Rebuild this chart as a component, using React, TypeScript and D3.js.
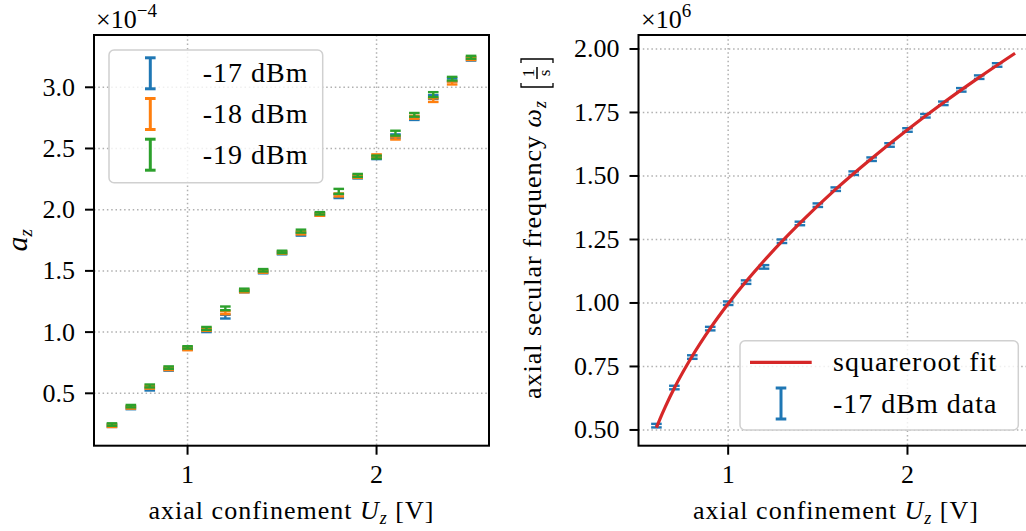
import * as React from 'react';
import * as d3 from 'd3';

// axial confinement voltages [V]
const voltages = [0.6, 0.7, 0.8, 0.9, 1.0, 1.1, 1.2, 1.3, 1.4, 1.5, 1.6, 1.7, 1.8, 1.9, 2.0, 2.1, 2.2, 2.3, 2.4, 2.5];

// a_z (x1e-4) per power
const az17 = [0.235, 0.38, 0.535, 0.695, 0.865, 1.01, 1.126, 1.335, 1.49, 1.645, 1.8, 1.96, 2.11, 2.265, 2.425, 2.6, 2.745, 2.92, 3.06, 3.23];
const az18 = [0.235, 0.385, 0.55, 0.7, 0.862, 1.02, 1.158, 1.335, 1.495, 1.65, 1.81, 1.96, 2.12, 2.27, 2.44, 2.585, 2.755, 2.895, 3.035, 3.235];
const az19 = [0.245, 0.395, 0.56, 0.71, 0.875, 1.03, 1.194, 1.345, 1.505, 1.655, 1.825, 1.97, 2.15, 2.28, 2.43, 2.625, 2.775, 2.94, 3.07, 3.245];
const azErr17 = [0.01, 0.01, 0.012, 0.01, 0.01, 0.01, 0.015, 0.01, 0.01, 0.01, 0.012, 0.01, 0.015, 0.01, 0.012, 0.015, 0.012, 0.015, 0.012, 0.012];
const azErr18 = [0.01, 0.01, 0.012, 0.01, 0.01, 0.01, 0.012, 0.01, 0.01, 0.01, 0.012, 0.01, 0.012, 0.01, 0.012, 0.012, 0.012, 0.015, 0.012, 0.012];
const azErr19 = [0.01, 0.01, 0.012, 0.01, 0.01, 0.012, 0.015, 0.01, 0.01, 0.01, 0.012, 0.01, 0.02, 0.012, 0.012, 0.02, 0.015, 0.02, 0.015, 0.012];

// omega_z (x1e6) for -17 dBm
const omega17 = [0.517, 0.667, 0.787, 0.899, 0.999, 1.082, 1.142, 1.243, 1.313, 1.385, 1.448, 1.511, 1.566, 1.622, 1.681, 1.737, 1.786, 1.839, 1.889, 1.937];
const omegaErr17 = [0.007, 0.007, 0.007, 0.007, 0.007, 0.007, 0.007, 0.007, 0.007, 0.007, 0.007, 0.007, 0.007, 0.007, 0.007, 0.007, 0.007, 0.007, 0.007, 0.007];

// squareroot fit curve
const fitU = [0.6, 0.62, 0.65, 0.7, 0.8, 0.9, 1.0, 1.2, 1.4, 1.6, 1.8, 2.0, 2.2, 2.4, 2.6];
const fitOmega = [0.509, 0.544, 0.592, 0.665, 0.791, 0.9, 0.997, 1.166, 1.314, 1.448, 1.569, 1.682, 1.788, 1.888, 1.983];

const xTicks = [1, 2];
const leftYTicks = [0.5, 1.0, 1.5, 2.0, 2.5, 3.0];
const rightYTicks = [0.5, 0.75, 1.0, 1.25, 1.5, 1.75, 2.0];

const leftSeries = [
  { label: '-17 dBm', color: '#1f77b4', values: az17, errs: azErr17 },
  { label: '-18 dBm', color: '#ff7f0e', values: az18, errs: azErr18 },
  { label: '-19 dBm', color: '#2ca02c', values: az19, errs: azErr19 },
];

const FONT = "'Liberation Serif', 'Times New Roman', serif";
const CAP = 5.3;

function ErrorBar({ x, y0, y1, color, w = 2 }: { x: number; y0: number; y1: number; color: string; w?: number }) {
  return (
    <g stroke={color} strokeWidth={w} fill="none">
      <line x1={x} x2={x} y1={y0} y2={y1} />
      <line x1={x - CAP} x2={x + CAP} y1={y0} y2={y0} />
      <line x1={x - CAP} x2={x + CAP} y1={y1} y2={y1} />
    </g>
  );
}

export default function App() {
  const m1 = { left: 94, right: 489, top: 35, bottom: 445.7 };
  const m2 = { left: 638.5, right: 1033, top: 35, bottom: 445.7 };

  const x1 = d3.scaleLinear().domain([0.505, 2.595]).range([m1.left, m1.right]);
  const y1 = d3.scaleLinear().domain([0.072, 3.427]).range([m1.bottom, m1.top]);
  const x2 = d3.scaleLinear().domain([0.5, 2.7]).range([m2.left, m2.right]);
  const y2 = d3.scaleLinear().domain([0.438, 2.055]).range([m2.bottom, m2.top]);

  const fitLine = d3
    .line<number>()
    .x((d, i) => x2(fitU[i]))
    .y(d => y2(d))
    .curve(d3.curveMonotoneX);

  const grid = { stroke: '#b0b0b0', strokeWidth: 1.5, strokeDasharray: '1.5 2.8' };
  const tickFont = { fontFamily: FONT, fontSize: 26, fill: '#000' };

  return (
    <svg width={1026} height={531} style={{ position: 'absolute', left: 0, top: 0, background: '#fff' }}>
      {/* ---------- left panel ---------- */}
      <g>
        {xTicks.map(t => (
          <line key={'gx' + t} x1={x1(t)} x2={x1(t)} y1={m1.top} y2={m1.bottom} {...grid} />
        ))}
        {leftYTicks.map(t => (
          <line key={'gy' + t} x1={m1.left} x2={m1.right} y1={y1(t)} y2={y1(t)} {...grid} />
        ))}
        {leftSeries.map(s => (
          <g key={s.label}>
            {voltages.map((v, i) => (
              <ErrorBar key={i} x={x1(v)} y0={y1(s.values[i] - s.errs[i])} y1={y1(s.values[i] + s.errs[i])} color={s.color} w={2.4} />
            ))}
          </g>
        ))}
        <rect x={m1.left} y={m1.top} width={m1.right - m1.left} height={m1.bottom - m1.top} fill="none" stroke="#000" strokeWidth={2} />
        {xTicks.map(t => (
          <g key={'tx' + t}>
            <line x1={x1(t)} x2={x1(t)} y1={m1.bottom} y2={m1.bottom + 9} stroke="#000" strokeWidth={2} />
            <text x={x1(t)} y={483} textAnchor="middle" {...tickFont}>{t}</text>
          </g>
        ))}
        {leftYTicks.map(t => (
          <g key={'ty' + t}>
            <line x1={m1.left - 9} x2={m1.left} y1={y1(t)} y2={y1(t)} stroke="#000" strokeWidth={2} />
            <text x={m1.left - 19} y={y1(t) + 8.5} textAnchor="end" {...tickFont}>{t.toFixed(1)}</text>
          </g>
        ))}
        <text x={96} y={28} {...tickFont}>
          ×10<tspan fontSize={19} dy={-11}>−4</tspan>
        </text>
        <text x={(m1.left + m1.right) / 2} y={519} textAnchor="middle" {...tickFont} letterSpacing={1}>
          axial confinement <tspan fontStyle="italic">U</tspan>
          <tspan fontStyle="italic" fontSize={18} dy={5}>z</tspan>
          <tspan dy={-5}> [V]</tspan>
        </text>
        <text transform={`translate(27,${(m1.top + m1.bottom) / 2}) rotate(-90)`} textAnchor="middle" fontFamily={FONT} fontSize={30}>
          <tspan fontStyle="italic">a</tspan>
          <tspan fontStyle="italic" fontSize={19} dy={5}>z</tspan>
        </text>
        {/* legend */}
        <rect x={109} y={50} width={213.7} height={132.7} rx={5} fill="#fff" fillOpacity={0.8} stroke="#d0d0d0" strokeWidth={1.5} />
        {leftSeries.map((s, i) => {
          const cy = 73.3 + i * 40.7;
          return (
            <g key={'lg' + s.label}>
              <ErrorBar x={150.3} y0={cy + 15.5} y1={cy - 15.5} color={s.color} w={3} />
              <text x={202.7} y={cy + 9} fontFamily={FONT} fontSize={28} letterSpacing={1}>{s.label}</text>
            </g>
          );
        })}
      </g>

      {/* ---------- right panel ---------- */}
      <g>
        {xTicks.map(t => (
          <line key={'gx' + t} x1={x2(t)} x2={x2(t)} y1={m2.top} y2={m2.bottom} {...grid} />
        ))}
        {rightYTicks.map(t => (
          <line key={'gy' + t} x1={m2.left} x2={m2.right} y1={y2(t)} y2={y2(t)} {...grid} />
        ))}
        {voltages.map((v, i) => (
          <ErrorBar key={i} x={x2(v)} y0={y2(omega17[i] - omegaErr17[i])} y1={y2(omega17[i] + omegaErr17[i])} color="#1f77b4" w={2.4} />
        ))}
        <path d={fitLine(fitOmega) || ''} fill="none" stroke="#d62728" strokeWidth={3.2} />
        <rect x={m2.left} y={m2.top} width={m2.right - m2.left} height={m2.bottom - m2.top} fill="none" stroke="#000" strokeWidth={2} />
        {xTicks.map(t => (
          <g key={'tx' + t}>
            <line x1={x2(t)} x2={x2(t)} y1={m2.bottom} y2={m2.bottom + 9} stroke="#000" strokeWidth={2} />
            <text x={x2(t)} y={483} textAnchor="middle" {...tickFont}>{t}</text>
          </g>
        ))}
        {rightYTicks.map(t => (
          <g key={'ty' + t}>
            <line x1={m2.left - 9} x2={m2.left} y1={y2(t)} y2={y2(t)} stroke="#000" strokeWidth={2} />
            <text x={m2.left - 19} y={y2(t) + 8.5} textAnchor="end" {...tickFont}>{t.toFixed(2)}</text>
          </g>
        ))}
        <text x={641} y={28} {...tickFont}>
          ×10<tspan fontSize={19} dy={-11}>6</tspan>
        </text>
        <text x={836} y={519} textAnchor="middle" {...tickFont} letterSpacing={1}>
          axial confinement <tspan fontStyle="italic">U</tspan>
          <tspan fontStyle="italic" fontSize={18} dy={5}>z</tspan>
          <tspan dy={-5}> [V]</tspan>
        </text>
        <g transform="translate(541,240) rotate(-90)">
          <text x={140} y={0} textAnchor="end" {...tickFont} letterSpacing={1}>
            axial secular frequency <tspan fontStyle="italic">ω</tspan>
            <tspan fontStyle="italic" fontSize={18} dy={5}>z</tspan>
          </text>
          <g stroke="#000" fill="none" strokeWidth={1.3}>
            <path d="M157,-20 H153 V12 H157" />
            <path d="M177,-20 H181 V12 H177" />
            <line x1={161} x2={173} y1={-4} y2={-4} strokeWidth={1.5} />
          </g>
          <text x={167} y={-7} textAnchor="middle" fontFamily={FONT} fontSize={17}>1</text>
          <text x={167} y={9} textAnchor="middle" fontFamily={FONT} fontSize={17}>s</text>
        </g>
        {/* legend */}
        <rect x={740} y={340.7} width={278.3} height={89.3} rx={5} fill="#fff" fillOpacity={0.8} stroke="#d0d0d0" strokeWidth={1.5} />
        <line x1={750} x2={811.7} y1={362.3} y2={362.3} stroke="#d62728" strokeWidth={3.2} />
        <text x={833} y={371} fontFamily={FONT} fontSize={28} letterSpacing={1}>squareroot fit</text>
        <ErrorBar x={781} y0={419} y1={388} color="#1f77b4" w={3} />
        <text x={833} y={413} fontFamily={FONT} fontSize={28} letterSpacing={1}>-17 dBm data</text>
      </g>
    </svg>
  );
}
